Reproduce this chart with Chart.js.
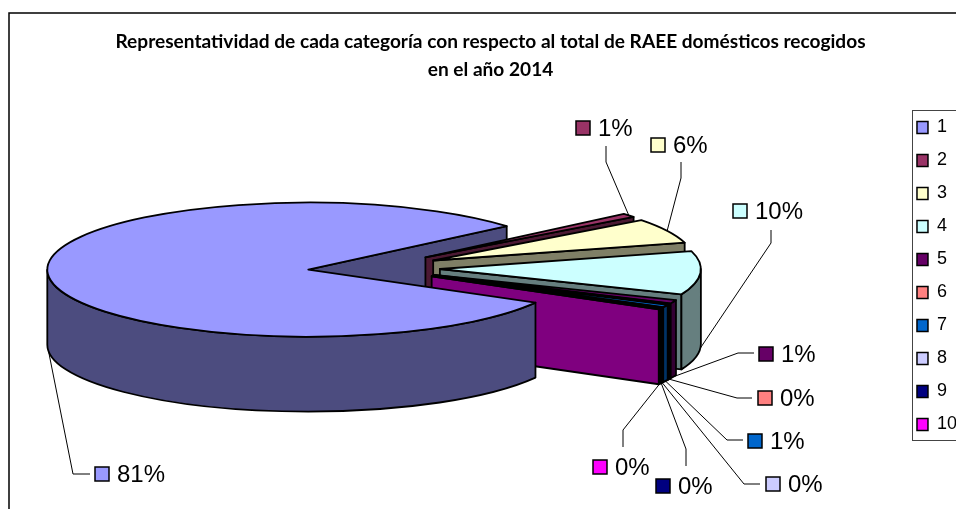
<!DOCTYPE html>
<html lang="es">

<head>
    <meta charset="UTF-8">
    <title>RAEE 2014</title>
    <style>
        html, body {
            margin: 0;
            padding: 0;
            background: #fff;
            overflow: hidden;
        }
        .wrap {
            width: 956px;
            height: 509px;
            overflow: hidden;
        }
        canvas {
            display: block;
        }
    </style>
</head>

<body>
    <div class="wrap">
        <canvas id="pie3d" width="980" height="593"></canvas>
    </div>

    <script src="https://cdn.jsdelivr.net/npm/chart.js"></script>
    <script>
        const categories = ['1', '2', '3', '4', '5', '6', '7', '8', '9', '10'];
        const shares = [80.55, 0.95, 6.0, 10.49, 0.8, 0.2, 0.6, 0.1, 0.1, 0.21];
        const colors = ['#9999FF', '#993366', '#FFFFCC', '#CCFFFF', '#660066', '#FF8080', '#0066CC', '#CCCCFF', '#000080', '#FF00FF'];
        const titleLines = [
            'Representatividad de cada categoría con respecto al total de RAEE domésticos recogidos',
            'en el año 2014'
        ];

        // where the excel labels were dragged to: swatch corner, leader end, leader elbow
        const labelSpots = [
            [95, 467, 90, 474, 73, 474],
            [576, 121, 606, 146, 606, 162],
            [651, 138, 681, 162, 681, 178],
            [733, 204, 771, 230, 771, 243],
            [759, 347, 754, 353, 738, 353],
            [758, 391, 752, 398, 737, 398],
            [748, 434, 743, 440, 727, 440],
            [766, 477, 760, 484, 744, 484],
            [656, 479, 686, 466, 686, 449],
            [593, 460, 623, 447, 623, 430]
        ];

        // geometry of the tilted pie on screen
        const CX = 374, CY = 268, RX = 261, RY = 67, DEPTH = 75, EXPLODE = 66;
        const EDGE = 1.8;
        const TAU = Math.PI * 2;

        function darken(hex) {
            const n = parseInt(hex.slice(1), 16);
            const r = (n >> 16) >> 1, g = ((n >> 8) & 255) >> 1, b = (n & 255) >> 1;
            return 'rgb(' + r + ',' + g + ',' + b + ')';
        }

        function sliceCenter(arc) {
            const mid = (arc.startAngle + arc.endAngle) / 2;
            return {
                mid: mid,
                x: CX + Math.cos(mid) * EXPLODE,
                y: CY + Math.sin(mid) * EXPLODE * RY / RX
            };
        }

        function paint(ctx, fill) {
            ctx.fillStyle = fill;
            ctx.fill();
            ctx.strokeStyle = '#000';
            ctx.lineWidth = EDGE;
            ctx.stroke();
        }

        // cut side of a slice at one of its two edges
        function drawFace(ctx, arc, angle, fill) {
            const c = sliceCenter(arc);
            const ex = c.x + RX * Math.cos(angle);
            const ey = c.y + RY * Math.sin(angle);
            ctx.beginPath();
            ctx.moveTo(c.x, c.y);
            ctx.lineTo(ex, ey);
            ctx.lineTo(ex, ey + DEPTH);
            ctx.lineTo(c.x, c.y + DEPTH);
            ctx.closePath();
            paint(ctx, fill);
        }

        // outer rim, only the part that faces the viewer
        function drawWall(ctx, arc, fill) {
            const c = sliceCenter(arc);
            [0, TAU].forEach(turn => {
                const a0 = Math.max(arc.startAngle, turn);
                const a1 = Math.min(arc.endAngle, turn + Math.PI);
                if (a1 <= a0) return;
                ctx.beginPath();
                ctx.ellipse(c.x, c.y, RX, RY, 0, a0, a1);
                ctx.ellipse(c.x, c.y + DEPTH, RX, RY, 0, a1, a0, true);
                ctx.closePath();
                paint(ctx, fill);
            });
        }

        function drawTop(ctx, arc) {
            const c = sliceCenter(arc);
            ctx.save();
            ctx.translate(c.x, c.y);
            ctx.scale(RX / arc.outerRadius, RY / arc.outerRadius);
            ctx.translate(-arc.x, -arc.y);
            arc.draw(ctx);
            ctx.restore();

            ctx.beginPath();
            ctx.moveTo(c.x, c.y);
            ctx.ellipse(c.x, c.y, RX, RY, 0, arc.startAngle, arc.endAngle);
            ctx.closePath();
            ctx.strokeStyle = '#000';
            ctx.lineWidth = EDGE;
            ctx.stroke();
        }

        function drawSides(ctx, arc, fill) {
            if (Math.cos(arc.startAngle) < 0) drawFace(ctx, arc, arc.startAngle, fill);
            if (Math.cos(arc.endAngle) > 0) drawFace(ctx, arc, arc.endAngle, fill);
        }

        const pie3dPlugin = {
            id: 'pie3d',
            beforeDraw(chart) {
                // chart frame, runs off the picture on the right and at the bottom
                const ctx = chart.ctx;
                ctx.save();
                ctx.strokeStyle = '#000';
                ctx.lineWidth = 1.5;
                ctx.strokeRect(9, 13, 1200, 800);
                ctx.restore();
            },
            beforeDatasetsDraw(chart) {
                const ctx = chart.ctx;
                const arcs = chart.getDatasetMeta(0).data;
                ctx.save();
                ctx.lineJoin = 'round';
                // big slice has to go around the others: its inner cut goes behind them,
                // its top and rim in front
                drawFace(ctx, arcs[0], arcs[0].endAngle, darken(colors[0]));
                for (let i = 1; i < arcs.length; i++) {
                    drawSides(ctx, arcs[i], darken(colors[i]));
                    drawWall(ctx, arcs[i], darken(colors[i]));
                    drawTop(ctx, arcs[i]);
                }
                drawWall(ctx, arcs[0], darken(colors[0]));
                drawTop(ctx, arcs[0]);
                ctx.restore();
                return false;
            },
            afterDraw(chart) {
                const ctx = chart.ctx;
                const arcs = chart.getDatasetMeta(0).data;
                const total = shares.reduce((a, b) => a + b, 0);
                ctx.save();

                // legend box
                ctx.strokeStyle = '#444';
                ctx.lineWidth = 1;
                ctx.strokeRect(912.5, 110.5, 120, 330);

                // leader lines and percentage labels
                arcs.forEach((arc, i) => {
                    const c = sliceCenter(arc);
                    const s = labelSpots[i];
                    const sin = Math.sin(c.mid);
                    ctx.beginPath();
                    ctx.moveTo(c.x + RX * Math.cos(c.mid), c.y + RY * sin + (sin > 0 ? DEPTH : 0));
                    ctx.lineTo(s[4], s[5]);
                    ctx.lineTo(s[2], s[3]);
                    ctx.strokeStyle = '#000';
                    ctx.lineWidth = 1;
                    ctx.stroke();

                    ctx.fillStyle = colors[i];
                    ctx.fillRect(s[0], s[1], 14, 14);
                    ctx.lineWidth = 1.5;
                    ctx.strokeRect(s[0], s[1], 14, 14);

                    ctx.fillStyle = '#000';
                    ctx.font = '24px "Liberation Sans", Arial, sans-serif';
                    ctx.textBaseline = 'middle';
                    ctx.textAlign = 'left';
                    ctx.fillText(Math.round(shares[i] / total * 100) + '%', s[0] + 22, s[1] + 8);
                });
                ctx.restore();
            }
        };

        new Chart(document.getElementById('pie3d'), {
            type: 'pie',
            data: {
                labels: categories,
                datasets: [{
                    data: shares,
                    backgroundColor: colors,
                    borderWidth: 0
                }]
            },
            options: {
                responsive: false,
                animation: false,
                events: [],
                rotation: 119.5,
                layout: {
                    padding: { left: 14, right: 13, bottom: 41 }
                },
                plugins: {
                    title: {
                        display: true,
                        text: titleLines,
                        color: '#000',
                        font: { family: 'Lato', weight: 'bold', size: 19.1, lineHeight: '28px' },
                        padding: { top: 28, bottom: 0 }
                    },
                    legend: {
                        position: 'right',
                        labels: {
                            color: '#000',
                            boxWidth: 11,
                            boxHeight: 12,
                            padding: 15,
                            font: { family: '"Liberation Sans"', size: 18 },
                            generateLabels(chart) {
                                return Chart.overrides.pie.plugins.legend.labels.generateLabels(chart).map(item => {
                                    item.strokeStyle = '#000';
                                    item.lineWidth = 1.5;
                                    return item;
                                });
                            }
                        }
                    },
                    tooltip: { enabled: false }
                }
            },
            plugins: [pie3dPlugin]
        });
    </script>
</body>

</html>
